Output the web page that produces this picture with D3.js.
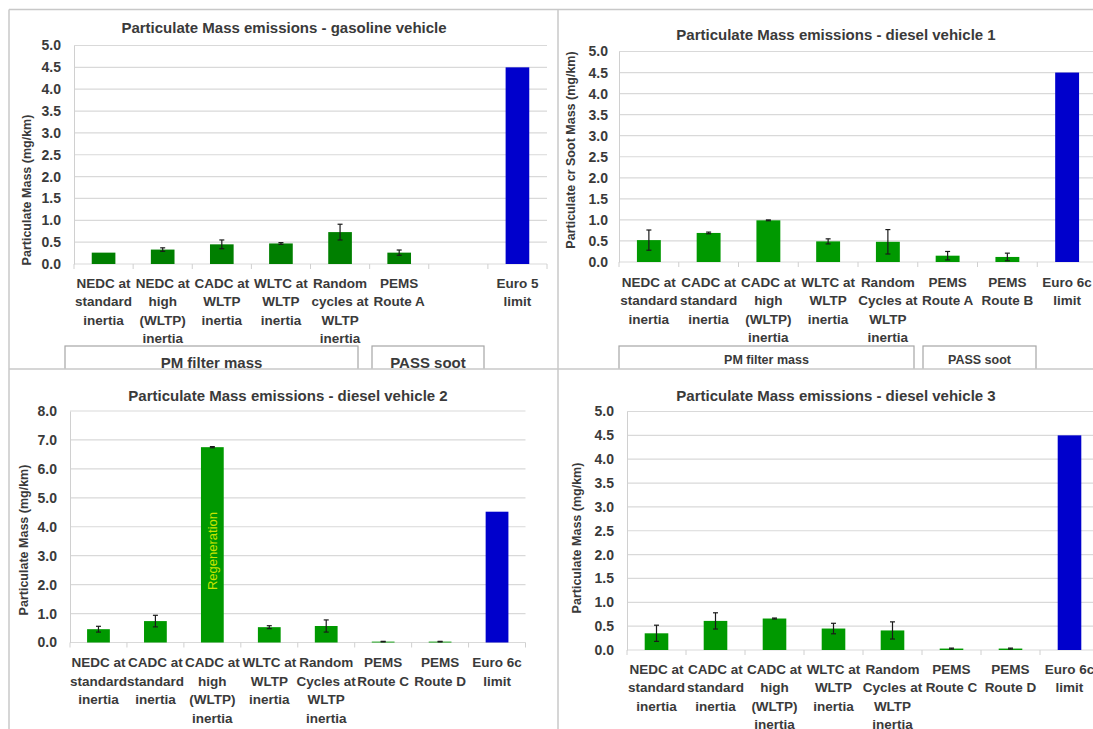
<!DOCTYPE html>
<html>
<head>
<meta charset="utf-8">
<script src="https://cdn.jsdelivr.net/npm/d3@7"></script>
<style>
body { margin: 0; background: #fff; }
text { font-family: "Liberation Sans", Arial, sans-serif; fill: #3a3a3a; }
</style>
</head>
<body>
<svg id="chart" width="1093" height="729"></svg>
<script>
// ---- data ----
// gasoline vehicle
const gasCats = ["NEDC at\nstandard\ninertia", "NEDC at\nhigh\n(WLTP)\ninertia", "CADC at\nWLTP\ninertia",
    "WLTC at\nWLTP\ninertia", "Random\ncycles at\nWLTP\ninertia", "PEMS\nRoute A", "", "Euro 5\nlimit"];
const gasVals = [0.26, 0.33, 0.45, 0.47, 0.73, 0.26, null, 4.5];
const gasErr = [0, 0.04, 0.1, 0.02, 0.18, 0.06, null, 0];
const gasGroups = ["PM filter mass", "PASS soot"];

// diesel vehicle 1
const d1Cats = ["NEDC at\nstandard\ninertia", "CADC at\nstandard\ninertia", "CADC at\nhigh\n(WLTP)\ninertia",
    "WLTC at\nWLTP\ninertia", "Random\nCycles at\nWLTP\ninertia", "PEMS\nRoute A", "PEMS\nRoute B", "Euro 6c\nlimit"];
const d1Vals = [0.52, 0.69, 0.99, 0.49, 0.48, 0.15, 0.12, 4.5];
const d1Err = [0.24, 0.02, 0.01, 0.06, 0.29, 0.1, 0.09, 0];
const d1Groups = ["PM filter mass", "PASS soot"];

// diesel vehicle 2
const d2Cats = ["NEDC at\nstandard\ninertia", "CADC at\nstandard\ninertia", "CADC at\nhigh\n(WLTP)\ninertia",
    "WLTC at\nWLTP\ninertia", "Random\nCycles at\nWLTP\ninertia", "PEMS\nRoute C", "PEMS\nRoute D", "Euro 6c\nlimit"];
const d2Vals = [0.46, 0.74, 6.75, 0.53, 0.57, 0.03, 0.03, 4.52];
const d2Err = [0.1, 0.2, 0.02, 0.05, 0.21, 0.01, 0.01, 0];
const d2Note = "Regeneration";
const d2NoteIndex = 2;

// diesel vehicle 3
const d3Cats = ["NEDC at\nstandard\ninertia", "CADC at\nstandard\ninertia", "CADC at\nhigh\n(WLTP)\ninertia",
    "WLTC at\nWLTP\ninertia", "Random\nCycles at\nWLTP\ninertia", "PEMS\nRoute C", "PEMS\nRoute D", "Euro 6c\nlimit"];
const d3Vals = [0.35, 0.61, 0.66, 0.45, 0.41, 0.03, 0.03, 4.5];
const d3Err = [0.17, 0.17, 0.01, 0.11, 0.18, 0.01, 0.01, 0];

const ticks05 = d3.range(0, 5.01, 0.5);
const ticks10 = d3.range(0, 8.01, 1);

var svg = d3.select("#chart");

// top panels are cut by the divider line
svg.append("defs").append("clipPath").attr("id", "topClip")
    .append("rect").attr("x", 0).attr("y", 0).attr("width", 1093).attr("height", 369);

function drawPanel(cfg) {
    var g = svg.append("g");
    if (cfg.clip) g.attr("clip-path", "url(#topClip)");

    var x = d3.scaleBand().domain(d3.range(cfg.cats.length)).range([cfg.left, cfg.right]);
    var y = d3.scaleLinear().domain([0, cfg.yMax]).range([cfg.bottom, cfg.top]);
    var bw = x.bandwidth();

    // horizontal grid
    g.append("g").selectAll("line").data(cfg.yTicks).join("line")
        .attr("x1", cfg.left).attr("x2", cfg.right)
        .attr("y1", d => y(d)).attr("y2", d => y(d))
        .attr("stroke", "#d9d9d9").attr("stroke-width", 1.2);

    // y axis
    var yAxis = d3.axisLeft(y).tickValues(cfg.yTicks).tickFormat(d3.format(".1f"))
        .tickSize(0).tickPadding(cfg.labelGap);
    g.append("g").attr("transform", "translate(" + cfg.left + ",0)")
        .call(yAxis)
        .call(a => a.select(".domain").attr("stroke", "#d0d0d0"))
        .selectAll("text").attr("font-size", 14).attr("font-weight", "bold");

    // category boundary ticks under the axis
    var bounds = d3.range(cfg.cats.length).map(i => x(i)).concat([cfg.right]);
    g.append("g").selectAll("line").data(bounds).join("line")
        .attr("x1", d => d).attr("x2", d => d)
        .attr("y1", y(0)).attr("y2", y(0) + 5)
        .attr("stroke", "#d0d0d0");

    // bars (keep the category index with each value)
    var barData = cfg.vals.map((v, i) => ({ v: v, i: i })).filter(d => d.v != null);
    g.append("g").selectAll("rect").data(barData).join("rect")
        .attr("x", d => x(d.i) + bw * 0.3)
        .attr("width", bw * 0.4)
        .attr("y", d => y(d.v))
        .attr("height", d => y(0) - y(d.v))
        .attr("fill", d => cfg.cats[d.i].startsWith("Euro") ? "#0000cc" : cfg.green);

    // error bars
    var eg = g.append("g").attr("stroke", "#1a1a1a").attr("stroke-width", 1.2);
    barData.forEach(function (d) {
        var e = cfg.err[d.i];
        if (!e) return;
        var cx = x(d.i) + bw / 2;
        eg.append("line").attr("x1", cx).attr("x2", cx).attr("y1", y(d.v - e)).attr("y2", y(d.v + e));
        eg.append("line").attr("x1", cx - 2.5).attr("x2", cx + 2.5).attr("y1", y(d.v - e)).attr("y2", y(d.v - e));
        eg.append("line").attr("x1", cx - 2.5).attr("x2", cx + 2.5).attr("y1", y(d.v + e)).attr("y2", y(d.v + e));
    });

    // category labels
    var lab = g.append("g").selectAll("text").data(cfg.cats).join("text")
        .attr("text-anchor", "middle").attr("font-size", 13.5).attr("font-weight", "bold");
    lab.each(function (d, i) {
        var t = d3.select(this);
        d.split("\n").forEach(function (line, k) {
            t.append("tspan").attr("x", x(i) + bw / 2).attr("y", cfg.labelY + k * 18.5).text(line);
        });
    });

    // title
    g.append("text").attr("x", cfg.titleX).attr("y", cfg.titleY)
        .attr("text-anchor", "middle").attr("font-size", 15).attr("font-weight", "bold")
        .text(cfg.title);

    // y axis title
    g.append("text")
        .attr("transform", "translate(" + cfg.yTitleX + "," + cfg.yTitleY + ") rotate(-90)")
        .attr("text-anchor", "middle").attr("dy", "0.35em")
        .attr("font-size", 12.5).attr("font-weight", "bold")
        .text(cfg.yTitle);

    // group boxes under the categories
    if (cfg.groups) {
        cfg.groups.forEach(function (name, k) {
            var b = cfg.groupBoxes[k];
            g.append("rect").attr("x", b[0]).attr("y", cfg.groupTop)
                .attr("width", b[1] - b[0]).attr("height", 40)
                .attr("fill", "none").attr("stroke", "#a6a6a6").attr("stroke-width", 1.2);
            g.append("text").attr("x", (b[0] + b[1]) / 2).attr("y", cfg.groupTextY)
                .attr("text-anchor", "middle").attr("font-size", cfg.groupFont).attr("font-weight", "bold")
                .text(name);
        });
    }

    if (cfg.note) {
        var i = cfg.noteIndex;
        g.append("text")
            .attr("transform", "translate(" + (x(i) + bw / 2) + "," + cfg.noteY + ") rotate(-90)")
            .attr("text-anchor", "middle").attr("dy", "0.35em")
            .attr("font-size", 13)
            .style("fill", "#c8e400")
            .text(cfg.note);
    }
}

drawPanel({
    cats: gasCats, vals: gasVals, err: gasErr, green: "#007f00",
    left: 74, right: 547, top: 45.5, bottom: 264, yMax: 5, yTicks: ticks05, labelGap: 13,
    labelY: 287.5, title: "Particulate Mass emissions - gasoline vehicle", titleX: 284, titleY: 32.5,
    yTitle: "Particulate Mass (mg/km)", yTitleX: 27, yTitleY: 190,
    groups: gasGroups, groupBoxes: [[65, 358], [372, 484]], groupTop: 346, groupTextY: 367.5, groupFont: 15,
    clip: true
});

drawPanel({
    cats: d1Cats, vals: d1Vals, err: d1Err, green: "#009900",
    left: 619, right: 1097, top: 51.5, bottom: 262, yMax: 5, yTicks: ticks05, labelGap: 11,
    labelY: 286.5, title: "Particulate Mass emissions - diesel vehicle 1", titleX: 836, titleY: 40,
    yTitle: "Particulate cr Soot Mass (mg/km)", yTitleX: 571, yTitleY: 150,
    groups: d1Groups, groupBoxes: [[619, 914], [923, 1036]], groupTop: 346, groupTextY: 364, groupFont: 12.5,
    clip: true
});

drawPanel({
    cats: d2Cats, vals: d2Vals, err: d2Err, green: "#009900",
    left: 70, right: 525.5, top: 411, bottom: 642.5, yMax: 8, yTicks: ticks10, labelGap: 13,
    labelY: 667, title: "Particulate Mass emissions - diesel vehicle 2", titleX: 288, titleY: 400.5,
    yTitle: "Particulate Mass (mg/km)", yTitleX: 24, yTitleY: 540,
    note: d2Note, noteIndex: d2NoteIndex, noteY: 551
});

drawPanel({
    cats: d3Cats, vals: d3Vals, err: d3Err, green: "#009900",
    left: 627, right: 1099, top: 411.5, bottom: 650, yMax: 5, yTicks: ticks05, labelGap: 13,
    labelY: 673.5, title: "Particulate Mass emissions - diesel vehicle 3", titleX: 836, titleY: 400.5,
    yTitle: "Particulate Mass (mg/km)", yTitleX: 577, yTitleY: 538
});

// panel frame lines
var frame = svg.append("g").attr("stroke", "#c8c8c8").attr("stroke-width", 1.5);
frame.append("line").attr("x1", 9).attr("x2", 1093).attr("y1", 9.5).attr("y2", 9.5);
frame.append("line").attr("x1", 9).attr("x2", 1093).attr("y1", 369).attr("y2", 369);
frame.append("line").attr("x1", 9).attr("x2", 9).attr("y1", 9.5).attr("y2", 729);
frame.append("line").attr("x1", 558).attr("x2", 558).attr("y1", 9.5).attr("y2", 729);
</script>
</body>
</html>
